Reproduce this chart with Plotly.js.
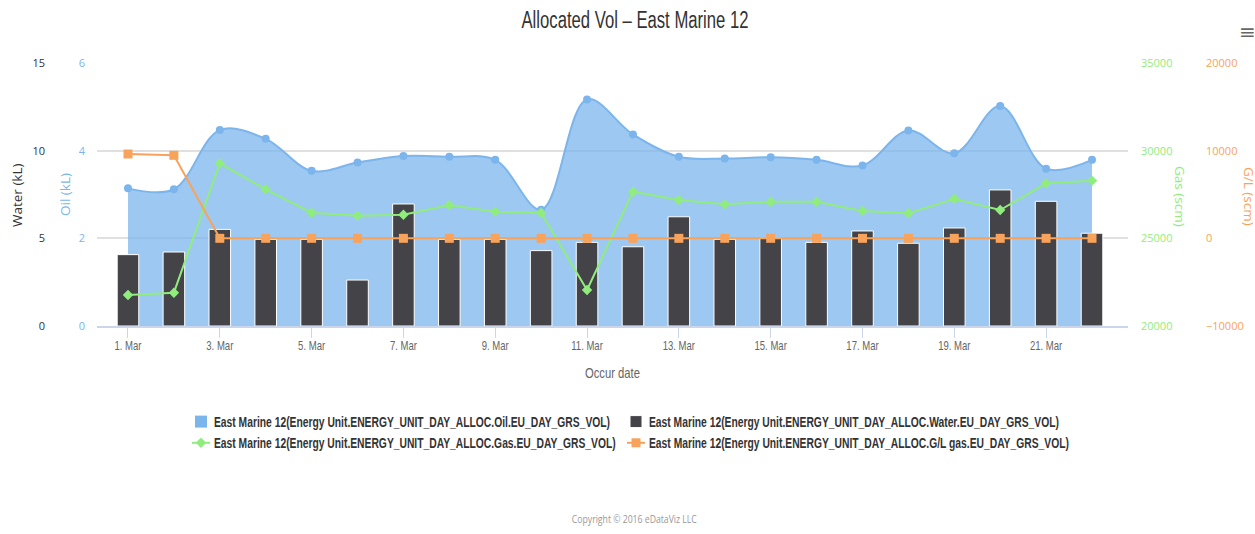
<!DOCTYPE html>
<html>
<head>
<meta charset="utf-8">
<script src="https://cdn.plot.ly/plotly-3.0.1.min.js"></script>
<style>html,body{margin:0;padding:0;background:#fff;}#chart{width:1255px;height:534px;}</style>
</head>
<body>
<div id="chart"></div>
<script>
const dates = ['2016-03-01','2016-03-02','2016-03-03','2016-03-04','2016-03-05','2016-03-06','2016-03-07','2016-03-08','2016-03-09','2016-03-10','2016-03-11','2016-03-12','2016-03-13','2016-03-14','2016-03-15','2016-03-16','2016-03-17','2016-03-18','2016-03-19','2016-03-20','2016-03-21','2016-03-22'];
const oil = [3.14,3.12,4.47,4.27,3.54,3.73,3.88,3.86,3.79,2.65,5.17,4.37,3.86,3.82,3.85,3.79,3.66,4.46,3.94,5.02,3.59,3.79];
const water = [4.07,4.22,5.51,4.94,4.94,2.62,6.96,4.94,4.94,4.30,4.77,4.52,6.23,4.94,5.02,4.77,5.42,4.72,5.59,7.76,7.11,5.29];
const gas = [21768,21900,29280,27797,26462,26291,26348,26901,26520,26462,22053,27660,27186,26940,27090,27090,26559,26427,27243,26616,28137,28289];
const glGas = [9620,9470,0,0,0,0,0,0,0,0,0,0,0,0,0,0,0,0,0,0,0,0];
const names = [
  'East Marine 12(Energy Unit.ENERGY_UNIT_DAY_ALLOC.Oil.EU_DAY_GRS_VOL)',
  'East Marine 12(Energy Unit.ENERGY_UNIT_DAY_ALLOC.Water.EU_DAY_GRS_VOL)',
  'East Marine 12(Energy Unit.ENERGY_UNIT_DAY_ALLOC.Gas.EU_DAY_GRS_VOL)',
  'East Marine 12(Energy Unit.ENERGY_UNIT_DAY_ALLOC.G/L gas.EU_DAY_GRS_VOL)'
];
const copyrightText = 'Copyright © 2016 eDataViz LLC';

const OPEN = '"Open Sans", "DejaVu Sans", sans-serif';
const LIB = '"Liberation Sans", Arial, sans-serif';
const W = 1255, H = 534, T = 63, B = 208, PH = H - T - B;
const px = v => v / W;
const py = v => (T + PH - v) / PH;
const DAY = 86400000;

const traces = [
  {type:'scatter', mode:'lines+markers', x:dates, y:oil, yaxis:'y', fill:'tozeroy',
   fillcolor:'rgba(124,181,236,0.75)', line:{color:'#7cb5ec', width:2, shape:'spline', smoothing:1},
   marker:{color:'#7cb5ec', size:8, symbol:'circle'}, showlegend:false, name:names[0], hoverinfo:'x+y'},
  {type:'bar', x:[null], y:[null], yaxis:'y', name:names[0], marker:{color:'#7cb5ec'}, showlegend:true},
  {type:'bar', x:dates, y:water, yaxis:'y2', name:names[1], width:0.47*DAY,
   marker:{color:'#434348', line:{color:'#ffffff', width:1}}},
  {type:'scatter', mode:'lines+markers', x:dates, y:gas, yaxis:'y3', name:names[2],
   line:{color:'#90ed7d', width:2}, marker:{color:'#90ed7d', size:8, symbol:'diamond'}},
  {type:'scatter', mode:'lines+markers', x:dates, y:glGas, yaxis:'y4', name:names[3],
   line:{color:'#f7a35c', width:2}, marker:{color:'#f7a35c', size:9, symbol:'square'}}
];

const tickFontY = c => ({family:OPEN, size:11, color:c});

const layout = {
  width:W, height:H,
  margin:{l:0, r:0, t:T, b:B, pad:0},
  paper_bgcolor:'#ffffff', plot_bgcolor:'#ffffff',
  barmode:'overlay',
  title:{text:'Allocated Vol – East Marine 12', font:{family:LIB, size:23, color:'#333333'},
         x:635/W, xanchor:'center', y:1-20/H, yanchor:'middle', xref:'container', yref:'container'},
  xaxis:{type:'date', domain:[97/W, 1128/W], range:['2016-02-29 07:48','2016-03-22 18:49'],
         tick0:'2016-03-01', dtick:2*DAY, tickformat:'%-d. %b',
         tickfont:{family:LIB, size:13, color:'#666666'},
         ticks:'outside', ticklen:10, tickcolor:'#ccd6eb', tickwidth:1, ticklabelstandoff:-4,
         showline:true, linecolor:'#ccd6eb', linewidth:2, showgrid:false, zeroline:false,
         title:{text:'Occur date', font:{family:LIB, size:15, color:'#666666'}, standoff:16}},
  yaxis:{range:[0,6], dtick:2, anchor:'free', position:97/W, side:'left',
         tickfont:tickFontY('#7cb5ec'), showgrid:true, gridcolor:'#e0e0e0', gridwidth:2,
         zeroline:false, showline:false, ticks:'', ticklabelstandoff:12},
  yaxis2:{range:[0,15], dtick:5, overlaying:'y', anchor:'free', position:45/W, side:'left',
          tickfont:tickFontY('#333333'), showgrid:false, zeroline:false, showline:false, ticks:''},
  yaxis3:{range:[20000,35000], dtick:5000, overlaying:'y', anchor:'x', side:'right', tickformat:'d',
          tickfont:tickFontY('#90ed7d'), showgrid:false, zeroline:false, showline:false, ticks:'',
          ticklabelstandoff:12},
  yaxis4:{range:[-10000,20000], dtick:10000, overlaying:'y', anchor:'free', position:1205/W, side:'right', tickformat:'d',
          tickfont:tickFontY('#f7a35c'), showgrid:false, zeroline:false, showline:false, ticks:''},
  legend:{orientation:'h', x:616/W, xanchor:'center', y:py(406), yanchor:'top',
          font:{family:LIB, size:14, color:'#333333', weight:'bold'},
          entrywidth:390, entrywidthmode:'pixels', bgcolor:'rgba(0,0,0,0)', traceorder:'normal'},
  annotations:[
    {text:'Water (kL)', xref:'paper', yref:'paper', x:px(17), y:py(195), textangle:-90, showarrow:false,
     font:{family:OPEN, size:13.5, color:'#333333'}, xanchor:'center', yanchor:'middle'},
    {text:'Oil (kL)', xref:'paper', yref:'paper', x:px(65), y:py(195), textangle:-90, showarrow:false,
     font:{family:OPEN, size:13.5, color:'#7cb5ec'}, xanchor:'center', yanchor:'middle'},
    {text:'Gas (scm)', xref:'paper', yref:'paper', x:px(1180), y:py(196), textangle:90, showarrow:false,
     font:{family:OPEN, size:13.5, color:'#90ed7d'}, xanchor:'center', yanchor:'middle'},
    {text:'G/L (scm)', xref:'paper', yref:'paper', x:px(1249), y:py(196), textangle:90, showarrow:false,
     font:{family:OPEN, size:13.5, color:'#f7a35c'}, xanchor:'center', yanchor:'middle'},
    {text:copyrightText, xref:'paper', yref:'paper', x:px(634), y:py(518), showarrow:false,
     font:{family:OPEN, size:11, color:'#999999'}, xanchor:'center', yanchor:'middle'},
    {text:'≡', xref:'paper', yref:'paper', x:px(1247), y:py(31), showarrow:false,
     font:{family:OPEN, size:20, color:'#666666'}, xanchor:'center', yanchor:'middle'}
  ]
};

// emulate the narrow font of the original by squeezing real SVG text horizontally
function squeeze(el, k) {
  const w = el.getComputedTextLength();
  el.setAttribute('textLength', (w * k).toFixed(1));
  el.setAttribute('lengthAdjust', 'spacingAndGlyphs');
}
function squeezeTo(el, target) { squeeze(el, target / el.getComputedTextLength()); }

Plotly.newPlot('chart', traces, layout, {displayModeBar:false, responsive:false}).then(gd => {
  const t = gd.querySelector('.gtitle');
  if (t) squeezeTo(t, 227);
  const legend = gd.querySelector('.legend');
  if (legend) {
    legend.querySelectorAll('[clip-path]').forEach(el => el.removeAttribute('clip-path'));
    const leg = legend.querySelectorAll('.legendtext');
    if (leg.length) {
      const k = 396 / leg[0].getComputedTextLength();
      leg.forEach(el => { squeeze(el, k); el.setAttribute('x', 33); });
    }
    // shorter line samples, as in the original legend
    legend.querySelectorAll('.legendlines path').forEach(p => p.setAttribute('d', 'M11,0h18'));
  }
  const xt = gd.querySelectorAll('.xaxislayer-above .xtick text');
  if (xt.length) {
    const k = 27 / xt[0].getComputedTextLength();
    xt.forEach(el => squeeze(el, k));
  }
  const xtitle = gd.querySelector('.xtitle');
  if (xtitle) squeezeTo(xtitle, 55);
  gd.querySelectorAll('.annotation-text').forEach(el => {
    if (el.textContent === copyrightText) squeezeTo(el, 125);
  });
});
</script>
</body>
</html>
